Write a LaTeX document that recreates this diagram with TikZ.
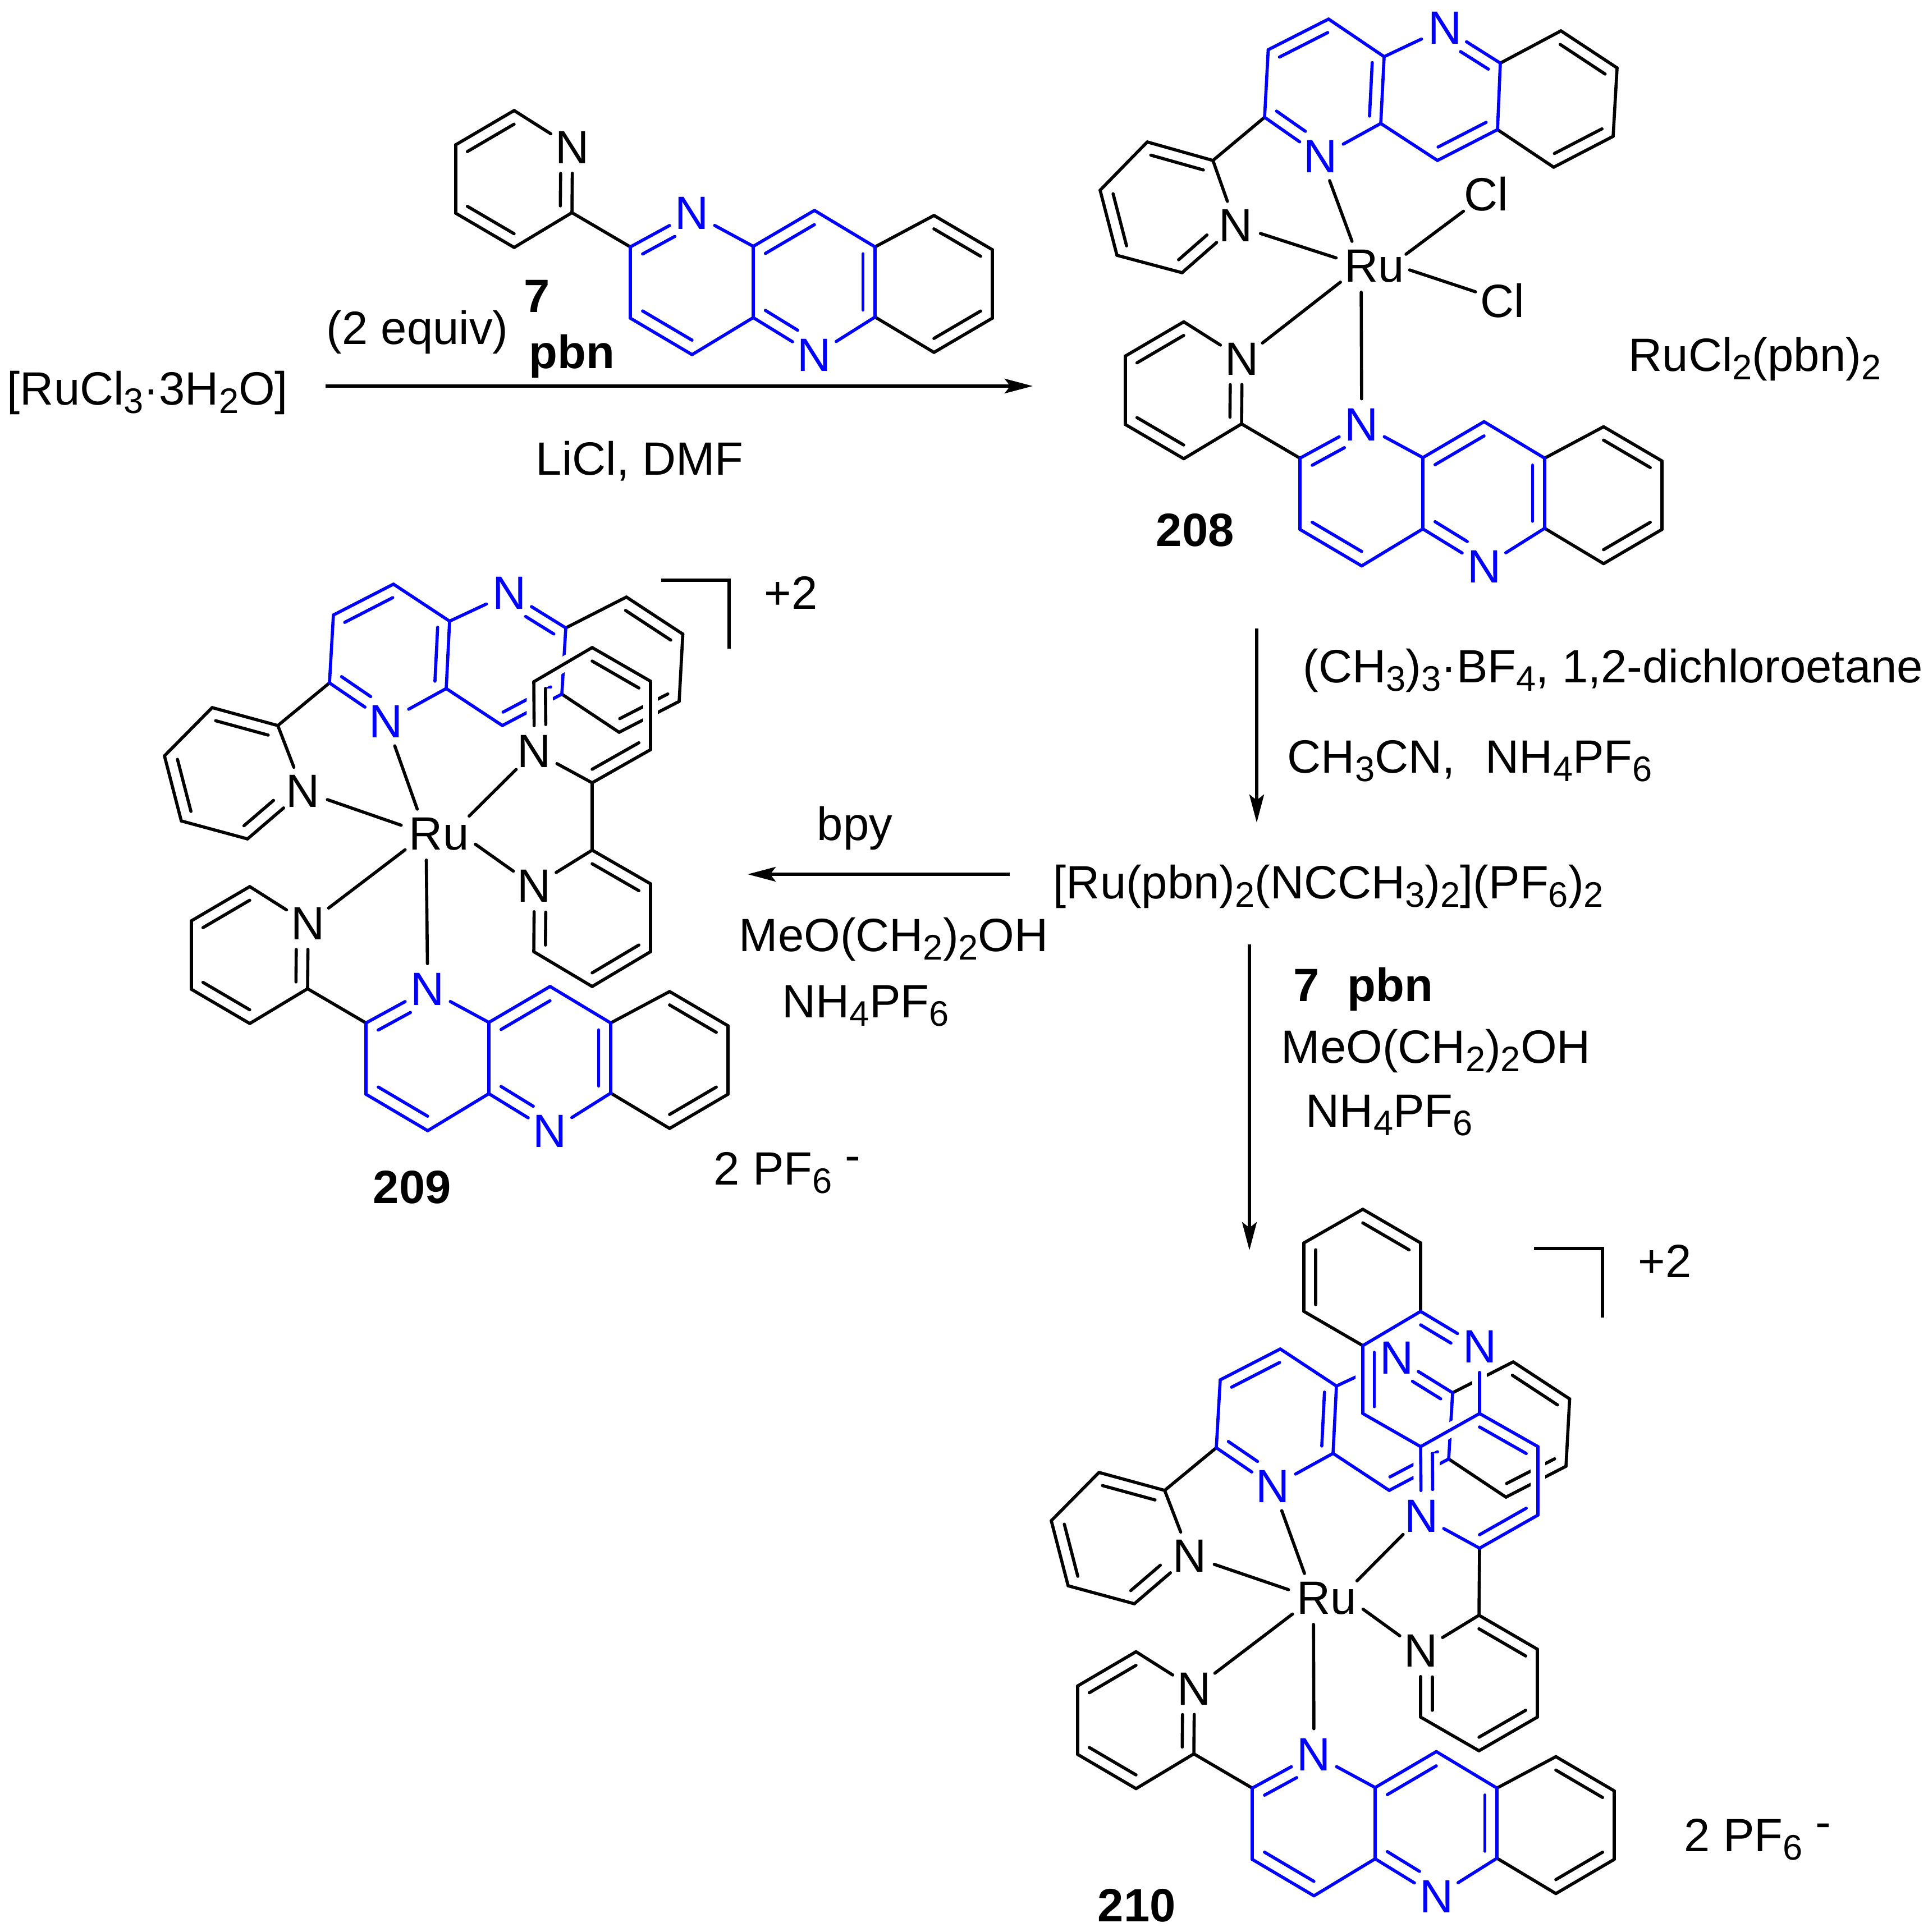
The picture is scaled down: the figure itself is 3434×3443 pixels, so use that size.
\documentclass[tikz,border=0pt]{standalone}
\usepackage{fontspec}
\setmainfont{Liberation Sans}
\usetikzlibrary{calc,arrows.meta}
\definecolor{ligblue}{RGB}{0,0,255}
\newcommand\chemf{\fontsize{20.8pt}{24pt}\selectfont}
\newcommand\lo[1]{\raisebox{-3.75pt}{\fontsize{15.8pt}{16pt}\selectfont #1}}
% bonds
\newcommand\Bs[3][kb]{\draw[#1] (#2) -- (#3);}
\newcommand\Bd[4][kb]{\draw[#1] (#2) -- (#3); \draw[#1] ($(#4)!0.8!(#2)$) -- ($(#4)!0.8!(#3)$);}
\newcommand\Bn[4][kb]{\draw[#1] (#2) -- (#3); \draw[#1,shorten >=8.75pt] ($(#4)!0.8!(#2)$) -- ($(#4)!0.8!(#3)$);}
\newcommand\centres{%
  \coordinate (pc) at ($(p3)!.5!(p6)$);
  \coordinate (ac) at ($(a2)!.5!(a5)$);
  \coordinate (bc) at ($(a2)!.5!(r2)$);
  \coordinate (ec) at ($(r1)!.5!(e3)$);}
\newcommand\ringE{\Bs{r1}{e1}\Bd{e1}{e2}{ec}\Bs{e2}{e3}\Bd{e3}{e4}{ec}\Bs{e4}{r2}\Bs{p6}{a1}}
\newcommand\pyrA{\Bn{p6}{N0}{pc}\Bs{N0}{p2}\Bd{p2}{p3}{pc}\Bs{p3}{p4}\Bd{p4}{p5}{pc}\Bs{p5}{p6}}
\newcommand\pyrB{\Bd{p6}{p5}{pc}\Bs{p5}{p4}\Bd{p4}{p3}{pc}\Bs{p3}{p2}\Bn{p2}{N0}{pc}\Bs{N0}{p6}}
\newcommand\ligA{\pyrA\ringE
  \Bn[bb]{a1}{N1}{ac}\Bs[bb]{N1}{a2}\Bs[bb]{a2}{a3}\Bs[bb]{a3}{a4}\Bd[bb]{a4}{a5}{ac}\Bs[bb]{a5}{a1}
  \Bd[bb]{a2}{c1}{bc}\Bs[bb]{c1}{r1}\Bd[bb]{r1}{r2}{bc}\Bs[bb]{r2}{N2}\Bn[bb]{a3}{N2}{bc}}
\newcommand\ligB{\pyrB\ringE
  \Bn[bb]{a1}{N1}{ac}\Bs[bb]{N1}{a2}\Bd[bb]{a2}{a3}{ac}\Bs[bb]{a3}{a4}\Bd[bb]{a4}{a5}{ac}\Bs[bb]{a5}{a1}
  \Bs[bb]{a2}{c1}\Bd[bb]{c1}{r1}{bc}\Bs[bb]{r1}{r2}\Bn[bb]{r2}{N2}{bc}\Bs[bb]{N2}{a3}}
\newcommand\ligC{\pyrB\ringE
  \Bd[bb]{a1}{a5}{ac}\Bs[bb]{a5}{a4}\Bd[bb]{a4}{a3}{ac}\Bs[bb]{a3}{a2}\Bn[bb]{a2}{N1}{ac}\Bs[bb]{N1}{a1}
  \Bs[bb]{a2}{c1}\Bd[bb]{c1}{r1}{bc}\Bs[bb]{r1}{r2}\Bn[bb]{r2}{N2}{bc}\Bs[bb]{N2}{a3}}
% coordinates
\newcommand\pt[2]{\coordinate (#1) at (#2);}
\newcommand\coordsT{%
  \node[atk] (N0) at (1020,263) {N};
  \node[atb] (N1) at (1233,380) {N};
  \node[atb] (N2) at (1451,633) {N};
  \pt{p2}{916,197}\pt{p3}{812,258}\pt{p4}{812,380}\pt{p5}{916,441}\pt{p6}{1019,379}
  \pt{a1}{1123,440}\pt{a2}{1342,439}\pt{a3}{1342,566}\pt{a4}{1233,632}\pt{a5}{1123,567}
  \pt{c1}{1451,375}\pt{r1}{1559,440}\pt{r2}{1559,565}
  \pt{e1}{1664,384}\pt{e2}{1768,445}\pt{e3}{1768,567}\pt{e4}{1664,628}\centres}
\newcommand\coordsU{%
  \node[atk] (N0) at (540,1410) {N};
  \node[atb] (N1) at (688,1286) {N};
  \node[atb] (N2) at (908,1057) {N};
  \pt{p2}{441,1495}\pt{p3}{323,1463}\pt{p4}{293,1347}\pt{p5}{378,1261}\pt{p6}{495,1293}
  \pt{a1}{587,1217}\pt{a2}{795,1227}\pt{a3}{801,1107}\pt{a4}{701,1041}\pt{a5}{594,1096}
  \pt{c1}{895,1293}\pt{r1}{1001,1237}\pt{r2}{1008,1119}
  \pt{e1}{1103,1305}\pt{e2}{1210,1250}\pt{e3}{1216.5,1130}\pt{e4}{1116,1064}\centres}
\tikzset{
  kb/.style={draw=black,line width=1.4pt,line cap=round},
  bb/.style={draw=ligblue,line width=1.4pt,line cap=round},
  halo/.style={draw=white,line width=6.5pt,line cap=butt},
  atk/.style={circle,inner sep=0pt,minimum size=22.5pt,font=\chemf,text=black},
  atb/.style={atk,text=ligblue},
  atcl/.style={circle,inner sep=0pt,minimum size=25pt,font=\chemf,text=black},
  atru/.style={circle,inner sep=0pt,minimum size=23pt,font=\chemf,text=black},
  txt/.style={anchor=base west,inner sep=0pt,font=\chemf,text=black},
  txb/.style={txt,font=\chemf\bfseries},
  rxn/.style={draw=black,line width=1.4pt,-{Stealth[length=12.5pt,width=6.5pt,inset=2.5pt]}},
  brk/.style={draw=black,line width=1.4pt,line join=miter}
}
\newcommand\Ru{\makebox[0pt][c]{\hphantom{u}Ru}}
\begin{document}
\begin{tikzpicture}[x=0.25pt,y=-0.25pt]
\useasboundingbox (0,0) rectangle (3434,3443);
\fill[white] (0,0) rectangle (3434,3443);

% ---------- 7
\begin{scope}[name prefix=l7-]
  \coordsT \ligA
\end{scope}

% ---------- 208
\begin{scope}[name prefix=u8-]
  \node[atk] (N0) at (2202,402) {N};
  \node[atb] (N1) at (2353,279) {N};
  \node[atb] (N2) at (2574,50) {N};
  \pt{p2}{2106,486}\pt{p3}{1990,455}\pt{p4}{1960,339}\pt{p5}{2044,253}\pt{p6}{2161,286}
  \pt{a1}{2253,209}\pt{a2}{2460,220}\pt{a3}{2466,101}\pt{a4}{2367,34}\pt{a5}{2259.5,88.6}
  \pt{c1}{2561,286}\pt{r1}{2668,231}\pt{r2}{2673,112.5}
  \pt{e1}{2768,298}\pt{e2}{2874,243}\pt{e3}{2881,121}\pt{e4}{2781,55}\centres
  \ligB
\end{scope}
\begin{scope}[shift={(1193,376.5)},name prefix=l8-]
  \coordsT \ligA
\end{scope}
\node[atru] (ru8) at (2425,474) {\Ru};
\coordinate (ru8r) at (2481,471);
\node[atcl] (cl1) at (2648,346) {Cl};
\node[atcl] (cl2) at (2677,536) {Cl};
\draw[kb] (ru8) -- (u8-N1);
\draw[kb] (ru8) -- (u8-N0);
\draw[kb] (ru8) -- (l8-N0);
\draw[kb] (ru8) -- (l8-N1);
\draw[kb,shorten <=7.5pt] (ru8r) -- (cl1);
\draw[kb,shorten <=8pt] (ru8r) -- (cl2);

% ---------- 209
\begin{scope}[name prefix=u9-]
  \coordsU \ligB
\end{scope}
\begin{scope}[shift={(-471,1383)},name prefix=l9-]
  \coordsT \ligA
\end{scope}
\begin{scope}[name prefix=b9-]
  \node[atk] (N0) at (952,1339) {N};
  \pt{p2}{951,1215}\pt{p3}{1055,1154}\pt{p4}{1159,1214}\pt{p5}{1159,1336}\pt{p6}{1055,1395}
  \coordinate (pc) at ($(p3)!.5!(p6)$);
  \begin{scope}[kb/.style={halo}] \pyrB \end{scope}
  \pyrB
\end{scope}
\begin{scope}[name prefix=d9-]
  \node[atk] (N0) at (952,1579) {N};
  \pt{p2}{951,1696}\pt{p3}{1055,1758}\pt{p4}{1159,1696}\pt{p5}{1159,1575}\pt{p6}{1055,1515}
  \coordinate (pc) at ($(p3)!.5!(p6)$);
  \pyrB
\end{scope}
\draw[kb] (b9-p6) -- (d9-p6);
\node[atru] (ru9) at (759,1486) {\Ru};
\coordinate (ru9r) at (811,1479);
\draw[kb] (ru9) -- (u9-N1);
\draw[kb] (ru9) -- (u9-N0);
\draw[kb] (ru9) -- (l9-N0);
\draw[kb] (ru9) -- (l9-N1);
\draw[kb,shorten <=8.75pt] (ru9r) -- (b9-N0);
\draw[kb,shorten <=11pt] (ru9r) -- (d9-N0);

% ---------- 210
\begin{scope}[shift={(1580,1363)},name prefix=u0-]
  \coordsU \ligB
\end{scope}
\begin{scope}[shift={(1108,2746.5)},name prefix=l0-]
  \coordsT \ligA
\end{scope}
\begin{scope}[name prefix=f0-]
  \node[atk] (N0) at (2531,2942) {N};
  \node[atb] (N1) at (2532,2702) {N};
  \node[atb] (N2) at (2636,2400) {N};
  \pt{p2}{2531,3060}\pt{p3}{2635,3120}\pt{p4}{2739,3060}\pt{p5}{2739,2939}\pt{p6}{2635,2878.5}
  \pt{a1}{2636,2759}\pt{a2}{2531,2578}\pt{a3}{2636,2519}\pt{a4}{2740,2578}\pt{a5}{2740,2700}
  \pt{c1}{2428,2519}\pt{r1}{2428,2398}\pt{r2}{2531,2337}
  \pt{e1}{2323,2337}\pt{e2}{2323,2215}\pt{e3}{2428,2155}\pt{e4}{2531,2215}\centres
  \begin{scope}[kb/.style={halo},bb/.style={halo}] \ligC \end{scope}
  \ligC
\end{scope}
\node[atru] (ru0) at (2340,2848) {\Ru};
\coordinate (ru0r) at (2393,2842);
\draw[kb] (ru0) -- (u0-N1);
\draw[kb] (ru0) -- (u0-N0);
\draw[kb] (ru0) -- (l0-N0);
\draw[kb] (ru0) -- (l0-N1);
\draw[kb,shorten <=8.75pt] (ru0r) -- (f0-N1);
\draw[kb,shorten <=11pt] (ru0r) -- (f0-N0);

% ---------- charge brackets
\coordinate (k9a) at (1178,1034); \coordinate (k9b) at (1299,1034); \coordinate (k9c) at (1299,1156);
\draw[brk] (k9a) -- (k9b) -- (k9c);
\coordinate (k0a) at (2733,2225); \coordinate (k0b) at (2855,2225); \coordinate (k0c) at (2855,2348);
\draw[brk] (k0a) -- (k0b) -- (k0c);

% ---------- reaction arrows
\coordinate (r1s) at (580,688);   \coordinate (r1e) at (1840,688);
\coordinate (r2s) at (2239,1120); \coordinate (r2e) at (2239,1466);
\coordinate (r3s) at (2226,1683); \coordinate (r3e) at (2226,2228);
\coordinate (r4s) at (1799,1558); \coordinate (r4e) at (1332,1558);
\draw[rxn] (r1s) -- (r1e);
\draw[rxn] (r2s) -- (r2e);
\draw[rxn] (r3s) -- (r3e);
\draw[rxn] (r4s) -- (r4e);

% ---------- texts
\node[txt] (t1) at (12,722) {[RuCl\lo{3}·3H\lo{2}O]};
\node[txt] (t2) at (581,614) {(2 equiv)};
\node[txb] (t3) at (933,557) {7};
\node[txb] (t4) at (942,657) {pbn};
\node[txt] (t5) at (954,846) {LiCl, DMF};
\node[txt] (t6) at (2901,662) {RuCl\lo{2}(pbn)\lo{2}};
\node[txb] (t7) at (2059,974) {208};
\node[txt] (t8) at (2321,1216) {(CH\lo{3})\lo{3}·BF\lo{4}, 1,2-dichloroetane};
\node[txt] (t9) at (2293,1377) {CH\lo{3}CN,};
\node[txt] (t10) at (2646,1377) {NH\lo{4}PF\lo{6}};
\node[txt] (t11) at (1876,1601) {[Ru(pbn)\lo{2}(NCCH\lo{3})\lo{2}](PF\lo{6})\lo{2}};
\node[txb] (t12) at (2304,1784) {7};
\node[txb] (t13) at (2400,1784) {pbn};
\node[txt] (t14) at (2282,1894) {MeO(CH\lo{2})\lo{2}OH};
\node[txt] (t15) at (2326,2008) {NH\lo{4}PF\lo{6}};
\node[txt] (t16) at (1455,1497) {bpy};
\node[txt] (t17) at (1316,1695) {MeO(CH\lo{2})\lo{2}OH};
\node[txt] (t18) at (1393,1813) {NH\lo{4}PF\lo{6}};
\node[txt] (t19) at (1361,1085) {+2};
\node[txt] (t20) at (1271,2111) {2 PF\lo{6} \raisebox{6pt}{-}};
\node[txb] (t21) at (664,2144) {209};
\node[txt] (t22) at (2918,2276) {+2};
\node[txt] (t23) at (3000,3299) {2 PF\lo{6} \raisebox{6pt}{-}};
\node[txb] (t24) at (1955,3424) {210};
\end{tikzpicture}
\end{document}
